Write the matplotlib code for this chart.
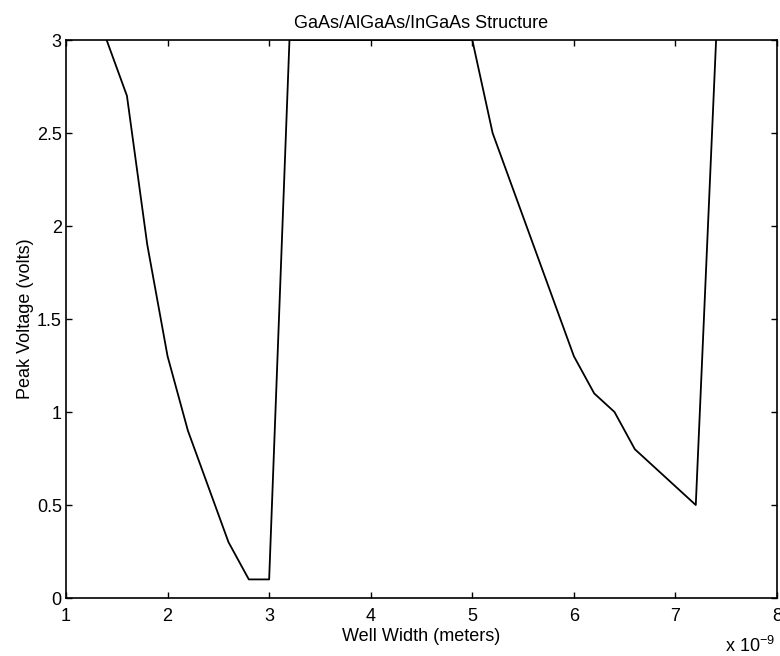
import matplotlib
matplotlib.use('Agg')
import matplotlib.pyplot as plt
from matplotlib.ticker import FormatStrFormatter

plt.rcParams['font.family'] = ['Liberation Sans', 'DejaVu Sans']

# well width (x 1e-9 m) and peak voltage (V), values above 3 are clipped by the axes
width = [1.4, 1.6, 1.8, 2.0, 2.2, 2.4, 2.6, 2.8, 3.0, 3.2, 3.4, 3.6, 3.8, 4.0,
         4.2, 4.4, 4.6, 4.8, 5.0, 5.2, 5.4, 5.6, 5.8, 6.0, 6.2, 6.4, 6.6, 6.8,
         7.0, 7.2, 7.4]
voltage = [3.0, 2.7, 1.9, 1.3, 0.9, 0.6, 0.3, 0.1, 0.1, 3.0, 3.0, 3.0, 3.0, 3.0,
           3.0, 3.0, 3.0, 3.0, 3.0, 2.5, 2.2, 1.9, 1.6, 1.3, 1.1, 1.0, 0.8, 0.7,
           0.6, 0.5, 3.0]

fs = 13
fig = plt.figure(figsize=(7.8, 6.56), dpi=100)
ax = fig.add_axes([0.0846, 0.0884, 0.9116, 0.8506])
ax.plot(width, voltage, color='black', lw=1.3)
ax.set_xlim(1, 8)
ax.set_ylim(0, 3)
ax.set_xticks(range(1, 9))
ax.set_yticks([0, 0.5, 1, 1.5, 2, 2.5, 3])
ax.yaxis.set_major_formatter(FormatStrFormatter('%g'))
ax.tick_params(direction='in', length=4, width=1, top=True, right=True, labelsize=fs)
ax.tick_params(axis='x', pad=7)
ax.tick_params(axis='y', pad=3)
for s in ax.spines.values():
    s.set_linewidth(1.2)
ax.set_title('GaAs/AlGaAs/InGaAs Structure', fontsize=fs, pad=9)
ax.set_xlabel('Well Width (meters)', fontsize=fs, labelpad=2)
ax.set_ylabel('Peak Voltage (volts)', fontsize=fs, labelpad=2)
fig.text(0.994, 0.006, r'x 10$^{\mathregular{-9}}$', ha='right', va='baseline', fontsize=fs)

plt.savefig('out.png')
